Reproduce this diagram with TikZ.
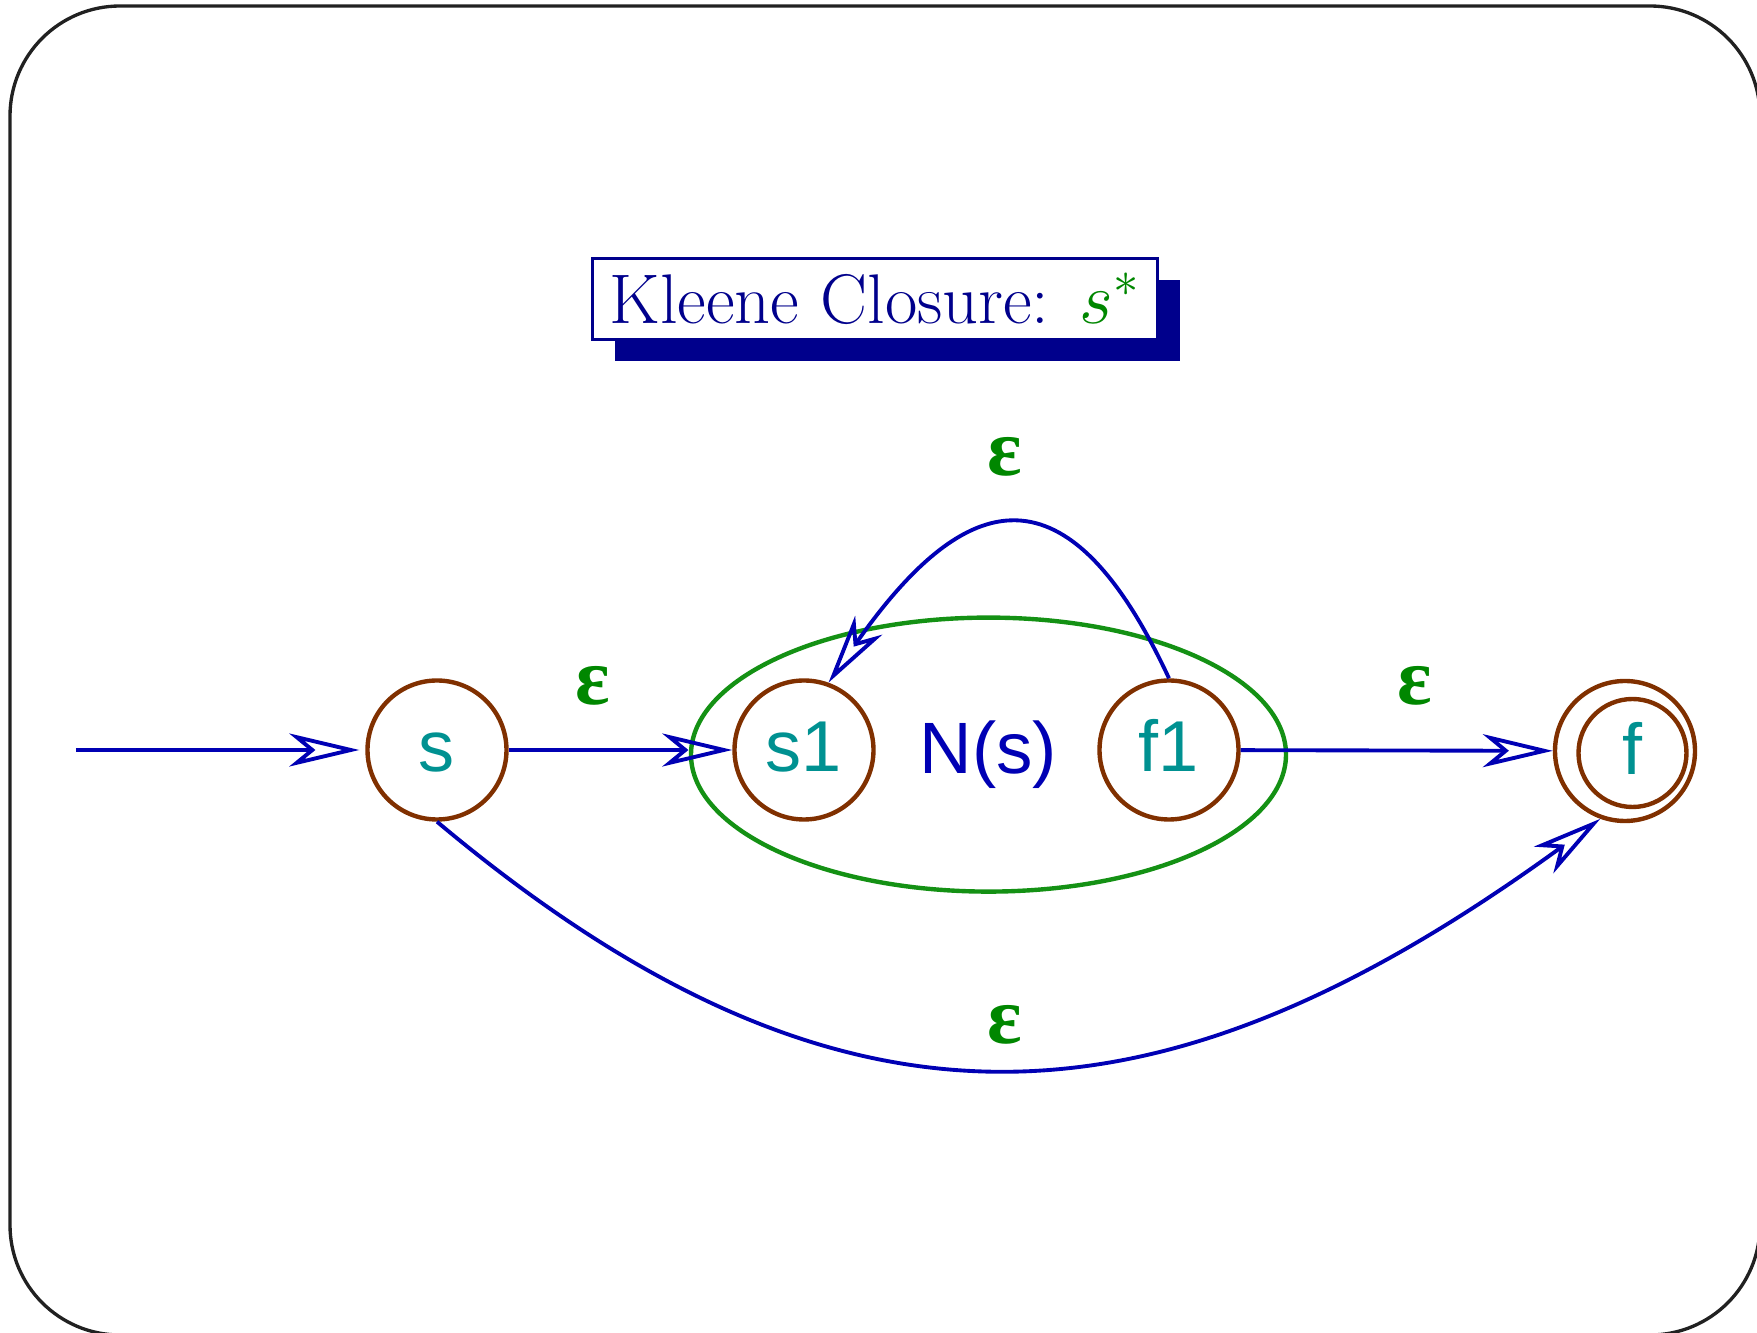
\documentclass[tikz,border=0pt]{standalone}
\usepackage{fontspec}
\newfontfamily\labelfont{Liberation Sans}
\newfontfamily\epsfont{Liberation Serif}
\usetikzlibrary{arrows.meta,shapes.geometric,shadows}
\definecolor{arcblue}{RGB}{0,0,180}
\definecolor{titleblue}{RGB}{0,0,140}
\definecolor{statebrown}{RGB}{128,48,0}
\definecolor{labelteal}{RGB}{0,145,145}
\definecolor{epsgreen}{RGB}{0,135,0}
\definecolor{ringgreen}{RGB}{20,145,20}
\begin{document}
\begin{tikzpicture}[state/.style={circle,draw=statebrown,line width=1.25pt,minimum size=1.39cm,inner sep=0,text=labelteal,font=\labelfont\fontsize{20.5}{24}\selectfont,text height=0.44cm,text depth=0pt},
trans/.style={draw=arcblue,line width=1.1pt,-{Stealth[open,length=7mm,width=3.3mm,inset=2mm]}},
eps/.style={text=epsgreen,font=\epsfont\bfseries\fontsize{23}{26}\selectfont}]
\useasboundingbox(0,0)rectangle(17.57,13.33);
\draw[line width=0.95pt,black!87,rounded corners=1.1cm](0.10,-0.02)rectangle(17.60,13.27);
\node[draw=titleblue,fill=white,line width=0.7pt,minimum width=5.65cm,minimum height=0.81cm,inner sep=0,text=titleblue,font=\fontsize{20}{24}\selectfont,general shadow={fill=titleblue,shadow xshift=0.22cm,shadow yshift=-0.22cm}](title)at(8.75,10.34){Kleene Closure:\hspace{0.43em}\textcolor{epsgreen}{$s^*$}};
\node[ellipse,draw=ringgreen,line width=1.25pt,minimum width=5.95cm,minimum height=2.74cm,inner sep=0,text=arcblue,font=\labelfont\fontsize{20.7}{24}\selectfont](ns)at(9.885,5.784){N(s)};
\foreach \n/\x in {s/4.37,s1/8.04,f1/11.69}\node[state](\n)at(\x,5.83){\n};
\node[state,minimum size=1.40cm](f)at(16.25,5.82){};
\node[state,minimum size=1.08cm](fi)at(16.325,5.80){f};
\coordinate(start)at(0.76,5.83);
\draw[trans,shorten >=0.6mm](start)--(s);
\draw[trans](s)--(s1);\draw[trans](f1)--(f);
\draw[trans](f1.north)to[out=115,in=55,looseness=1.8](s1.70);
\draw[trans](s.south)to[out=-40,in=216,looseness=1.18](f.250);
\foreach \x/\y[count=\i] in {5.93/6.47,14.15/6.47,10.05/8.76,10.05/3.08}\node[eps](e\i)at(\x,\y){ε};
\end{tikzpicture}
\end{document}
